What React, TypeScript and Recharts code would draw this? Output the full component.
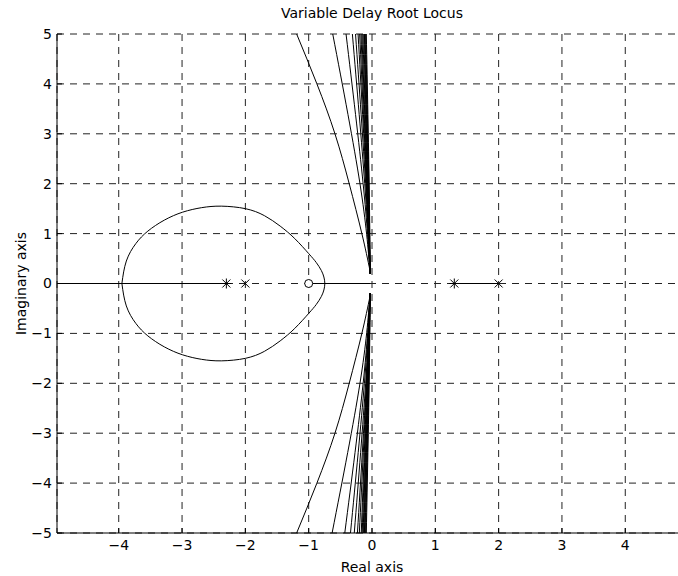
import { ComposedChart, Line, Scatter, XAxis, YAxis, CartesianGrid } from 'recharts';

type Pt = { x: number; y: number };

const xTicks = [-4, -3, -2, -1, 0, 1, 2, 3, 4];
const yTicks = [-5, -4, -3, -2, -1, 0, 1, 2, 3, 4, 5];

// closed loop around the left poles
const loopPoints: Pt[] = [
  { x: -3.95, y: 0 }, { x: -3.88, y: 0.45 }, { x: -3.73, y: 0.8 }, { x: -3.54, y: 1.05 },
  { x: -3.28, y: 1.27 }, { x: -2.99, y: 1.43 }, { x: -2.69, y: 1.52 }, { x: -2.38, y: 1.55 },
  { x: -2.0, y: 1.5 }, { x: -1.7, y: 1.36 }, { x: -1.45, y: 1.15 }, { x: -1.22, y: 0.9 },
  { x: -1.0, y: 0.6 }, { x: -0.88, y: 0.42 }, { x: -0.8, y: 0.26 }, { x: -0.76, y: 0.13 }, { x: -0.745, y: 0 },
  { x: -0.76, y: -0.13 }, { x: -0.8, y: -0.26 }, { x: -0.88, y: -0.42 }, { x: -1.0, y: -0.6 }, { x: -1.22, y: -0.9 },
  { x: -1.45, y: -1.15 }, { x: -1.7, y: -1.36 }, { x: -2.0, y: -1.5 }, { x: -2.38, y: -1.55 },
  { x: -2.69, y: -1.52 }, { x: -2.99, y: -1.43 }, { x: -3.28, y: -1.27 }, { x: -3.54, y: -1.05 },
  { x: -3.73, y: -0.8 }, { x: -3.88, y: -0.45 }, { x: -3.95, y: 0 },
];

const realAxisLeft: Pt[] = [{ x: -4.975, y: 0 }, { x: -2.3, y: 0 }];
const realAxisMid: Pt[] = [{ x: -1, y: 0 }, { x: -0.03, y: 0 }];
const realAxisRight: Pt[] = [{ x: 1.3, y: 0 }, { x: 2, y: 0 }];

const upperBranches: Pt[][] = [
  [{ x: -0.03, y: 0.25 }, { x: -0.16, y: 1 }, { x: -0.36, y: 2 }, { x: -0.585, y: 3 }, { x: -0.87, y: 4 }, { x: -1.19, y: 5 }],
  [{ x: -0.03, y: 0.2 }, { x: -0.19, y: 2 }, { x: -0.62, y: 5 }],
  [{ x: -0.03, y: 0.2 }, { x: -0.14, y: 2 }, { x: -0.41, y: 5 }],
  [{ x: -0.03, y: 0.2 }, { x: -0.115, y: 2 }, { x: -0.31, y: 5 }],
  [{ x: -0.03, y: 0.2 }, { x: -0.1, y: 2 }, { x: -0.26, y: 5 }],
  [{ x: -0.03, y: 0.2 }, { x: -0.09, y: 2 }, { x: -0.22, y: 5 }],
  [{ x: -0.03, y: 0.2 }, { x: -0.085, y: 2 }, { x: -0.195, y: 5 }],
  [{ x: -0.03, y: 0.2 }, { x: -0.08, y: 2 }, { x: -0.175, y: 5 }],
  [{ x: -0.03, y: 0.2 }, { x: -0.075, y: 2 }, { x: -0.16, y: 5 }],
  [{ x: -0.03, y: 0.2 }, { x: -0.07, y: 2 }, { x: -0.145, y: 5 }],
  [{ x: -0.03, y: 0.2 }, { x: -0.065, y: 2 }, { x: -0.13, y: 5 }],
  [{ x: -0.03, y: 0.2 }, { x: -0.06, y: 2 }, { x: -0.12, y: 5 }],
  [{ x: -0.03, y: 0.2 }, { x: -0.055, y: 2 }, { x: -0.11, y: 5 }],
  [{ x: -0.03, y: 0.2 }, { x: -0.05, y: 2 }, { x: -0.1, y: 5 }],
  [{ x: -0.03, y: 0.2 }, { x: -0.045, y: 2 }, { x: -0.09, y: 5 }],
];

const lowerBranches: Pt[][] = [
  [{ x: -0.03, y: -0.25 }, { x: -0.16, y: -1 }, { x: -0.36, y: -2 }, { x: -0.585, y: -3 }, { x: -0.87, y: -4 }, { x: -1.19, y: -5 }],
  [{ x: -0.03, y: -0.2 }, { x: -0.19, y: -2 }, { x: -0.63, y: -5 }],
  [{ x: -0.03, y: -0.2 }, { x: -0.14, y: -2 }, { x: -0.43, y: -5 }],
  [{ x: -0.03, y: -0.2 }, { x: -0.12, y: -2 }, { x: -0.34, y: -5 }],
  [{ x: -0.03, y: -0.2 }, { x: -0.1, y: -2 }, { x: -0.28, y: -5 }],
  [{ x: -0.03, y: -0.2 }, { x: -0.09, y: -2 }, { x: -0.23, y: -5 }],
  [{ x: -0.03, y: -0.2 }, { x: -0.085, y: -2 }, { x: -0.2, y: -5 }],
  [{ x: -0.03, y: -0.2 }, { x: -0.08, y: -2 }, { x: -0.17, y: -5 }],
  [{ x: -0.03, y: -0.2 }, { x: -0.075, y: -2 }, { x: -0.155, y: -5 }],
  [{ x: -0.03, y: -0.2 }, { x: -0.07, y: -2 }, { x: -0.14, y: -5 }],
  [{ x: -0.03, y: -0.2 }, { x: -0.065, y: -2 }, { x: -0.13, y: -5 }],
  [{ x: -0.03, y: -0.2 }, { x: -0.06, y: -2 }, { x: -0.12, y: -5 }],
  [{ x: -0.03, y: -0.2 }, { x: -0.055, y: -2 }, { x: -0.11, y: -5 }],
  [{ x: -0.03, y: -0.2 }, { x: -0.05, y: -2 }, { x: -0.1, y: -5 }],
  [{ x: -0.03, y: -0.2 }, { x: -0.045, y: -2 }, { x: -0.09, y: -5 }],
];

const starPoles: Pt[] = [{ x: -2.3, y: 0 }, { x: 1.3, y: 0 }];
const crossPoles: Pt[] = [{ x: -2, y: 0 }, { x: 2, y: 0 }];
const zeros: Pt[] = [{ x: -1, y: 0 }];

const FONT = '"DejaVu Sans", "Liberation Sans", Arial, sans-serif';
const fmt = (v: number) => (v < 0 ? `\u2212${-v}` : `${v}`);

const CrossMark = (props: any) => {
  const { cx, cy } = props;
  const r = 4;
  return (
    <g stroke="#000" strokeWidth={1}>
      <line x1={cx - r} y1={cy - r} x2={cx + r} y2={cy + r} />
      <line x1={cx - r} y1={cy + r} x2={cx + r} y2={cy - r} />
    </g>
  );
};

const StarMark = (props: any) => {
  const { cx, cy } = props;
  const r = 4;
  return (
    <g stroke="#000" strokeWidth={1}>
      <line x1={cx - r} y1={cy - r} x2={cx + r} y2={cy + r} />
      <line x1={cx - r} y1={cy + r} x2={cx + r} y2={cy - r} />
      <line x1={cx} y1={cy - r - 1} x2={cx} y2={cy + r + 1} />
      <line x1={cx - r - 1} y1={cy} x2={cx + r + 1} y2={cy} />
    </g>
  );
};

const CircleMark = (props: any) => {
  const { cx, cy } = props;
  return <circle cx={cx} cy={cy} r={4} fill="#fff" stroke="#000" strokeWidth={1} />;
};

export default function App() {
  const tickStyle = { fill: '#000', fontSize: 14, fontFamily: FONT };
  return (
    <div style={{ position: 'absolute', left: 0, top: 0, width: 678, height: 576, overflow: 'hidden', background: '#fff' }}>
      <div
        style={{
          position: 'absolute', left: 0, top: 4, width: 744, textAlign: 'center',
          fontFamily: FONT, fontSize: 14, lineHeight: '18px', color: '#000',
        }}
      >
        Variable Delay Root Locus
      </div>
      <ComposedChart width={700} height={576} margin={{ top: 34, right: 13, bottom: 0, left: 0 }}>
        <CartesianGrid stroke="#222" strokeDasharray="7 6" />
        <XAxis
          xAxisId="top"
          orientation="top"
          type="number"
          domain={[-4.975, 4.975]}
          allowDataOverflow
          ticks={xTicks}
          tick={false}
          tickSize={-5}
          height={0}
          stroke="#000"
        />
        <XAxis
          dataKey="x"
          type="number"
          domain={[-4.975, 4.975]}
          allowDataOverflow
          ticks={xTicks}
          tickFormatter={fmt}
          tick={tickStyle}
          tickSize={-5}
          tickMargin={12}
          height={43}
          stroke="#000"
          label={{ value: 'Real axis', position: 'insideBottom', offset: 4, fill: '#000', fontSize: 14, fontFamily: FONT }}
        />
        <YAxis
          dataKey="y"
          type="number"
          domain={[-5, 5]}
          allowDataOverflow
          ticks={yTicks}
          tickFormatter={fmt}
          tick={tickStyle}
          tickSize={-5}
          tickMargin={10}
          width={57}
          stroke="#000"
          label={{ value: 'Imaginary axis', angle: -90, position: 'insideLeft', offset: 21, fill: '#000', fontSize: 14, fontFamily: FONT, style: { textAnchor: 'middle' } }}
        />
        <Line data={loopPoints} dataKey="y" type="natural" stroke="#000" strokeWidth={1} dot={false} isAnimationActive={false} />
        <Line data={realAxisLeft} dataKey="y" type="linear" stroke="#000" strokeWidth={1.2} dot={false} isAnimationActive={false} />
        <Line data={realAxisMid} dataKey="y" type="linear" stroke="#000" strokeWidth={1.2} dot={false} isAnimationActive={false} />
        <Line data={realAxisRight} dataKey="y" type="linear" stroke="#000" strokeWidth={1.2} dot={false} isAnimationActive={false} />
        {upperBranches.map((b, i) => (
          <Line key={`u${i}`} data={b} dataKey="y" type="natural" stroke="#000" strokeWidth={1} dot={false} isAnimationActive={false} />
        ))}
        {lowerBranches.map((b, i) => (
          <Line key={`l${i}`} data={b} dataKey="y" type="natural" stroke="#000" strokeWidth={1} dot={false} isAnimationActive={false} />
        ))}
        <Scatter data={starPoles} dataKey="y" shape={StarMark} isAnimationActive={false} />
        <Scatter data={crossPoles} dataKey="y" shape={CrossMark} isAnimationActive={false} />
        <Scatter data={zeros} dataKey="y" shape={CircleMark} isAnimationActive={false} />
      </ComposedChart>
    </div>
  );
}
